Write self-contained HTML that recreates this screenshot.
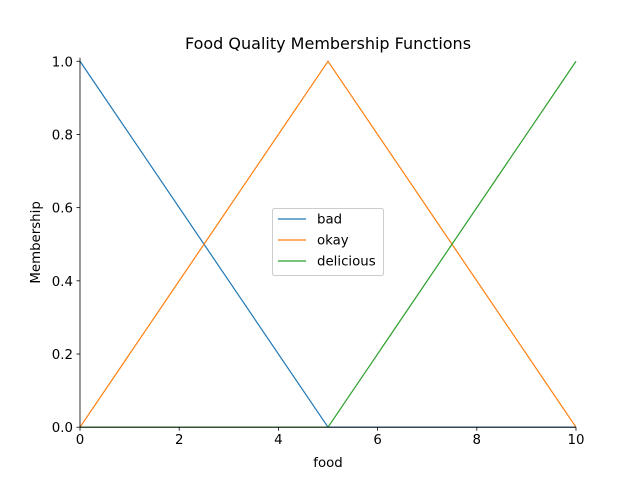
<!DOCTYPE html>
<html><head><meta charset="utf-8"><style>
body{margin:0;background:#fff;}
svg{display:block;font-family:"DejaVu Sans","Liberation Sans",sans-serif;}
</style></head><body>
<svg id="chart" width="640" height="480" viewBox="0 0 640 480"></svg>
<script>
const xs = [0, 5, 10];
const badVals = [1, 0, 0];
const okayVals = [0, 1, 0];
const deliciousVals = [0, 0, 1];
const seriesNames = ["bad", "okay", "delicious"];
const xTicks = [0, 2, 4, 6, 8, 10];
const yTicks = [0.0, 0.2, 0.4, 0.6, 0.8, 1.0];

const L = 80, R = 576, T = 57.6, B = 427.2;
const xMin = 0, xMax = 10, yMin = 0, yMax = 1.01;
function xs2p(v){ return L + (v - xMin) / (xMax - xMin) * (R - L); }
function ys2p(v){ return B - (v - yMin) / (yMax - yMin) * (B - T); }

const svg = document.getElementById('chart');
const NS = 'http://www.w3.org/2000/svg';
function el(tag, attrs, parent){
  const e = document.createElementNS(NS, tag);
  for (const k in attrs) e.setAttribute(k, attrs[k]);
  (parent || svg).appendChild(e);
  return e;
}

const colors = ["#1f77b4", "#ff7f0e", "#2ca02c"];
const allVals = [badVals, okayVals, deliciousVals];
allVals.forEach((vals, i) => {
  const pts = xs.map((x, j) => xs2p(x) + ',' + ys2p(vals[j])).join(' ');
  const p = el('polyline', {points: pts, fill: 'none', stroke: colors[i], 'stroke-width': 1.2});
  
  
});

const sl = el('line', {x1: L, y1: T, x2: L, y2: B, stroke: '#000', 'stroke-width': 0.8});


const sb = el('line', {x1: L, y1: B, x2: R, y2: B, stroke: '#000', 'stroke-width': 0.8});



xTicks.forEach(t => {
  const x = xs2p(t);
  el('line', {x1: x, y1: B, x2: x, y2: B + 3.5, stroke: '#000', 'stroke-width': 0.8});
  const tx = el('text', {x: x, y: B + 17, 'font-size': 13.33, 'text-anchor': 'middle', fill: '#000'});
  tx.textContent = t;
  
  
});
yTicks.forEach(t => {
  const y = ys2p(t);
  el('line', {x1: L, y1: y, x2: L - 3.5, y2: y, stroke: '#000', 'stroke-width': 0.8});
  const tx = el('text', {x: L - 7, y: y + 5, 'font-size': 13.33, 'text-anchor': 'end', fill: '#000'});
  tx.textContent = t.toFixed(1);
  
  
});

const title = el('text', {x: (L + R) / 2, y: 49, 'font-size': 16, 'text-anchor': 'middle', fill: '#000'});
title.textContent = 'Food Quality Membership Functions';



const xl = el('text', {x: (L + R) / 2, y: 467, 'font-size': 13.33, 'text-anchor': 'middle', fill: '#000'});
xl.textContent = 'food';



const yl = el('text', {x: 40, y: (T + B) / 2, 'font-size': 13.33, 'text-anchor': 'middle', fill: '#000', transform: 'rotate(-90 40 ' + ((T + B) / 2) + ')'});
yl.textContent = 'Membership';



const lg = el('g', {});


el('rect', {x: 272.5, y: 208.5, width: 111, height: 67, rx: 2, fill: '#fff', 'fill-opacity': 0.8, stroke: '#ccc', 'stroke-width': 1}, lg);
seriesNames.forEach((n, i) => {
  const y = 219 + i * 21;
  const g = el('g', {}, lg);
  
  
  el('line', {x1: 278, y1: y, x2: 306, y2: y, stroke: colors[i], 'stroke-width': 1.2}, g);
  const t = el('text', {x: 317, y: y + 4.5, 'font-size': 13.33, fill: '#000'}, g);
  t.textContent = n;
});
</script>
</body></html>
